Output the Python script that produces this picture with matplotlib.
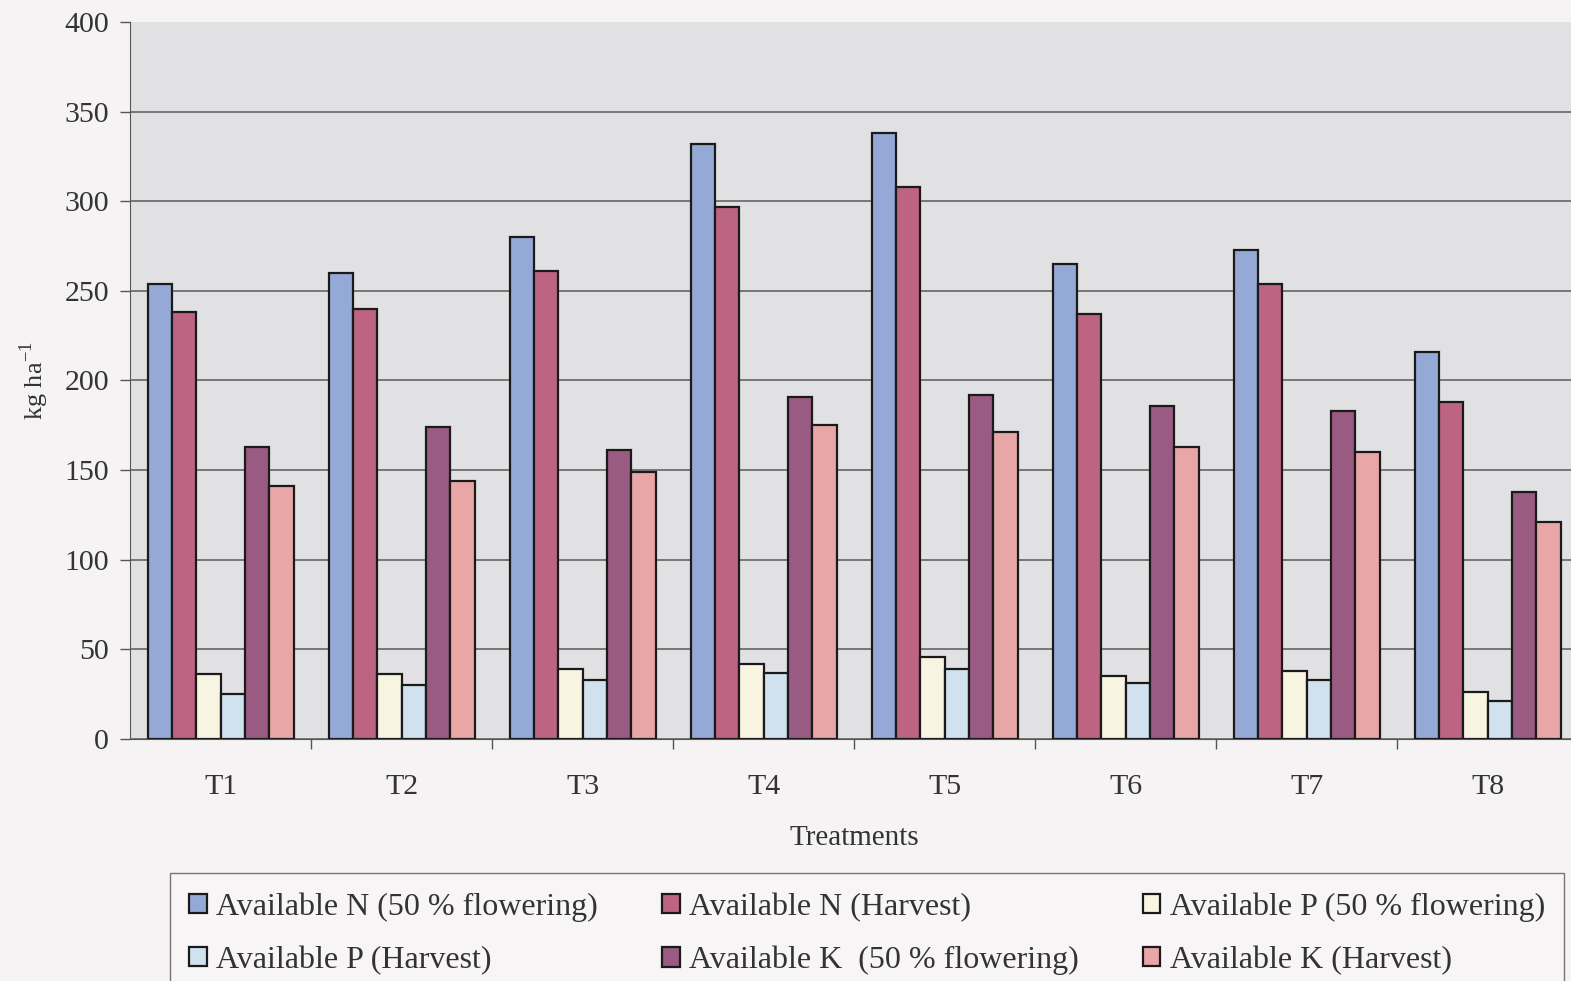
import matplotlib.pyplot as plt
import numpy as np

# Soil nutrient availability per treatment (kg/ha)
treatments = ["T1", "T2", "T3", "T4", "T5", "T6", "T7", "T8"]

n_flowering = [254, 260, 280, 332, 338, 265, 273, 216]
n_harvest = [238, 240, 261, 297, 308, 237, 254, 188]
p_flowering = [36, 36, 39, 42, 46, 35, 38, 26]
p_harvest = [25, 30, 33, 37, 39, 31, 33, 21]
k_flowering = [163, 174, 161, 191, 192, 186, 183, 138]
k_harvest = [141, 144, 149, 175, 171, 163, 160, 121]

series_labels = [
    "Available N (50 % flowering)",
    "Available N (Harvest)",
    "Available P (50 % flowering)",
    "Available P (Harvest)",
    "Available K  (50 % flowering)",
    "Available K (Harvest)",
]
series_colors = ["#95A9D6", "#BC6481", "#F8F4E2", "#CFE2EE", "#9A5B82", "#E8A7A6"]

plt.rcParams["font.family"] = ["Liberation Serif", "DejaVu Serif"]
plt.rcParams["mathtext.fontset"] = "custom"
plt.rcParams["mathtext.rm"] = "Liberation Serif"

fig = plt.figure(figsize=(15.71, 9.81), dpi=100, facecolor="#F5F3F3")
ax = fig.add_axes([0.0828, 0.2467, 0.9217, 0.7309])
ax.set_facecolor("#E1E0E2")

values = [n_flowering, n_harvest, p_flowering, p_harvest, k_flowering, k_harvest]
x = np.arange(len(treatments))
bar_w = 0.1345
bars = []
for i, (vals, color, label) in enumerate(zip(values, series_colors, series_labels)):
    offset = (i - 2.5) * bar_w
    b = ax.bar(x + offset, vals, bar_w, color=color, edgecolor="#1A1A1A",
               linewidth=1.6, label=label, zorder=3)
    bars.append(b)

ax.set_xlim(-0.5, len(treatments) - 0.5)
ax.set_ylim(0, 400)
ax.set_yticks(np.arange(0, 401, 50))
ax.yaxis.grid(True, color="#6E6E6E", linewidth=1.3, zorder=1)
ax.get_ygridlines()[-1].set_visible(False)

ax.set_xticks(x)
ax.set_xticklabels(treatments)
ax.set_xticks(np.arange(0.5, len(treatments) - 0.5, 1), minor=True)
ax.tick_params(axis="x", which="major", length=0, pad=25, labelsize=21.5, colors="#333333")
ax.tick_params(axis="x", which="minor", length=7, width=1.0, color="#555555", direction="out")
ax.tick_params(axis="y", length=7, width=1.0, color="#555555", pad=8, labelsize=21.5,
               labelcolor="#333333")

for side in ["top", "right"]:
    ax.spines[side].set_visible(False)
ax.spines["left"].set_color("#555555")
ax.spines["bottom"].set_color("#555555")

ax.set_xlabel("Treatments", fontsize=21, color="#333333", labelpad=18)
ax.set_ylabel(r"kg ha$^{\mathregular{-1}}$", fontsize=19, color="#333333", labelpad=10)

# legend rows read across: reorder handles for column-wise filling
order = [0, 3, 1, 4, 2, 5]
handles = [bars[i] for i in order]
labels = [series_labels[i] for i in order]
leg = fig.legend(handles, labels, loc="upper left", bbox_to_anchor=(0.1082, 0.110),
                 borderaxespad=0, ncol=3, fontsize=23, frameon=True, fancybox=False,
                 handlelength=0.55, handleheight=0.55, handletextpad=0.3,
                 columnspacing=2.0, borderpad=0.6, labelspacing=0.75,
                 labelcolor="#333333")
leg.get_frame().set_edgecolor("#555555")
leg.get_frame().set_facecolor("#F8F6F6")
leg.get_frame().set_linewidth(1.0)

fig.savefig("out.png", dpi=100, facecolor=fig.get_facecolor())
